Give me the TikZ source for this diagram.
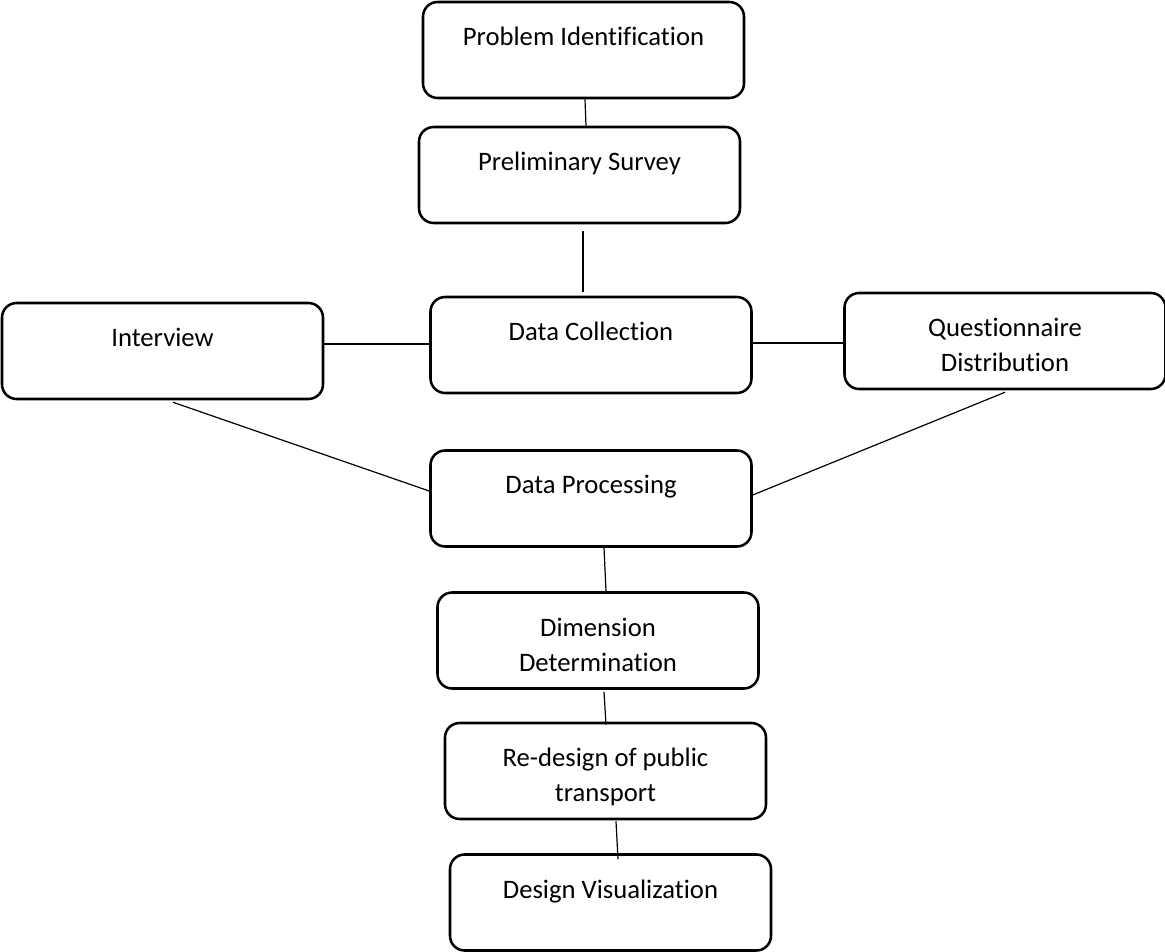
\documentclass[tikz,border=0pt]{standalone}
\usepackage{fontspec}
\setmainfont{Carlito}[Ligatures=NoCommon]
\usetikzlibrary{calc}
\tikzset{
  stagebox/.style={draw=black, line width=1.9pt, rounded corners=11pt,
    minimum width=240.75pt, minimum height=72pt, inner sep=0pt},
  lbl/.style={anchor=north, yshift=-15pt, inner sep=0pt, align=center,
    font=\fontsize{20pt}{26.25pt}\selectfont},
  link/.style={draw=black, line width=0.9pt}
}
\begin{document}
\begin{tikzpicture}[x=0.75pt,y=-0.75pt]
\useasboundingbox (0,0) rectangle (1165,952);
\node[stagebox, label={[lbl]north:\strut Problem Identification}] (pi) at (583.5,50) {};
\node[stagebox, label={[lbl]north:\strut Preliminary Survey}] (ps) at (579.5,175) {};
\node[stagebox, label={[lbl]north:\strut Interview}] (iv) at (162.5,351) {};
\node[stagebox, label={[lbl]north:\strut Data Collection}] (dc) at (591,345) {};
\node[stagebox, label={[lbl]north:\strut Questionnaire\\Distribution}] (qd) at (1005,341) {};
\node[stagebox, label={[lbl]north:\strut Data Processing}] (dp) at (591,498.5) {};
\node[stagebox, label={[lbl]north:\strut Dimension\\Determination}] (dd) at (598,640.5) {};
\node[stagebox, label={[lbl]north:\strut Re-design of public\\transport}] (rd) at (605.5,771) {};
\node[stagebox, label={[lbl]north:\strut Design Visualization}] (dv) at (610.5,902.5) {};

\draw[link] ($(pi.south)+(1.5,0)$) -- ($(ps.north)+(6.5,0)$);
\draw[link] ($(ps.south)+(3.5,7)$) -- ($(dc.north)+(-8,-4)$);
\draw[link] ($(iv.east)+(0,-7)$) -- ($(dc.west)+(0,-1)$);
\draw[link] ($(dc.east)+(0,-2)$) -- ($(qd.west)+(0,2)$);
\draw[link] ($(iv.south)+(10.5,2)$) -- ($(dp.west)+(0,-7.5)$);
\draw[link] ($(qd.south)+(0,2)$) -- ($(dp.east)+(0,-3.5)$);
\draw[link] ($(dp.south)+(13,0)$) -- ($(dd.north)+(8,0)$);
\draw[link] ($(dd.south)+(6,2)$) -- ($(rd.north)+(0.5,3)$);
\draw[link] ($(rd.south)+(10.5,1)$) -- ($(dv.north)+(7.5,6)$);
\end{tikzpicture}
\end{document}
